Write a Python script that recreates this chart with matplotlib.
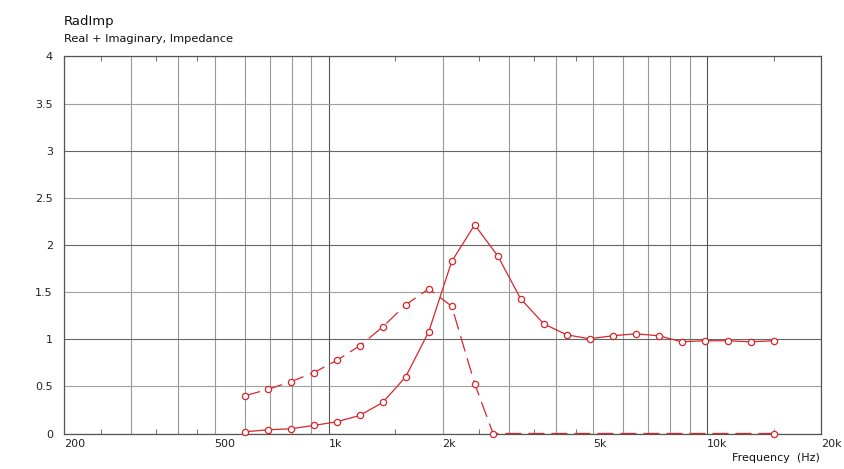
import matplotlib
matplotlib.use('Agg')
import matplotlib.pyplot as plt

# frequencies (Hz) of the measured points
freqs = [600, 690, 794, 913, 1050, 1208, 1390, 1598, 1839, 2115, 2432, 2798,
         3218, 3702, 4258, 4897, 5633, 6479, 7452, 8572, 9860, 11341, 13045, 15000]

# real part (solid)
real_vals = [0.018, 0.039, 0.050, 0.085, 0.124, 0.191, 0.329, 0.60, 1.079, 1.825,
             2.214, 1.885, 1.429, 1.164, 1.047, 1.005, 1.037, 1.058, 1.037, 0.973,
             0.984, 0.984, 0.973, 0.984]

# imaginary part (dashed), clipped at zero above ~2.7 kHz
imag_freqs = [600, 690, 794, 913, 1050, 1208, 1390, 1598, 1839, 2115, 2432, 2720, 15000]
imag_vals = [0.40, 0.467, 0.549, 0.645, 0.775, 0.93, 1.13, 1.365, 1.535, 1.35, 0.53, 0.0, 0.0]

grid_freqs = [200, 300, 400, 500, 600, 700, 800, 900, 1000, 2000, 3000, 4000,
              5000, 6000, 7000, 8000, 9000, 10000, 20000]
labelled = {200: '200', 500: '500', 1000: '1k', 2000: '2k', 5000: '5k',
            10000: '10k', 20000: '20k'}
minor_freqs = [250, 350, 450, 1500, 2500, 3500, 4500, 15000]
y_ticks = [0, 0.5, 1, 1.5, 2, 2.5, 3, 3.5, 4]

red = '#d8262a'

fig = plt.figure(figsize=(8.44, 4.69), dpi=100)
W, H = 844, 469
ax = fig.add_axes([64 / W, 1 - 433.5 / H, (821 - 64) / W, (433.5 - 56.5) / H])

ax.set_xscale('log')
ax.set_xlim(200, 20000)
ax.set_ylim(0, 4)

ax.set_xticks(grid_freqs)
ax.set_xticklabels([labelled.get(f, '') for f in grid_freqs])
ax.set_xticks(minor_freqs, minor=True)
ax.set_xticklabels([], minor=True)
ax.set_yticks(y_ticks)
ax.set_yticklabels(['%g' % v for v in y_ticks])

ax.tick_params(axis='x', which='major', length=0, pad=4, labelsize=8, colors='#222222')
ax.tick_params(axis='x', which='minor', length=3.5, direction='in', top=True,
               bottom=True, color='#777777', width=0.75)
ax.tick_params(axis='y', which='major', length=0, pad=8, labelsize=8, colors='#222222')
for lab in ax.get_xticklabels():
    lab.set_horizontalalignment('left')

ax.grid(True, which='major', axis='both', linewidth=0.8)
for f, gl in zip(grid_freqs, ax.get_xgridlines()):
    gl.set_color('#555555' if f in (1000, 10000) else '#999999')
for v, gl in zip(y_ticks, ax.get_ygridlines()):
    gl.set_color('#666666' if v == int(v) else '#a0a0a0')
ax.set_axisbelow(True)

for s in ax.spines.values():
    s.set_color('#555555')
    s.set_linewidth(0.9)

ax.plot(freqs, real_vals, color=red, lw=0.9, marker='o', ms=4.5,
        mfc='white', mec=red, mew=0.9, clip_on=False, zorder=4)
ax.plot(imag_freqs, imag_vals, color=red, lw=0.9, dashes=(12.8, 5.6),
        marker='o', ms=4.5, mfc='white', mec=red, mew=0.9, clip_on=False, zorder=4)

fig.text(64 / W, 1 - 21.7 / H, 'RadImp', fontsize=9.5, va='center', ha='left',
         color='#111111')
fig.text(64 / W, 1 - 39.3 / H, 'Real + Imaginary, Impedance', fontsize=8.2,
         va='center', ha='left', color='#111111')
fig.text(820 / W, 1 - 457.7 / H, 'Frequency  (Hz)', fontsize=8, va='center',
         ha='right', color='#111111')

fig.savefig('out.png', dpi=100, facecolor='white')
